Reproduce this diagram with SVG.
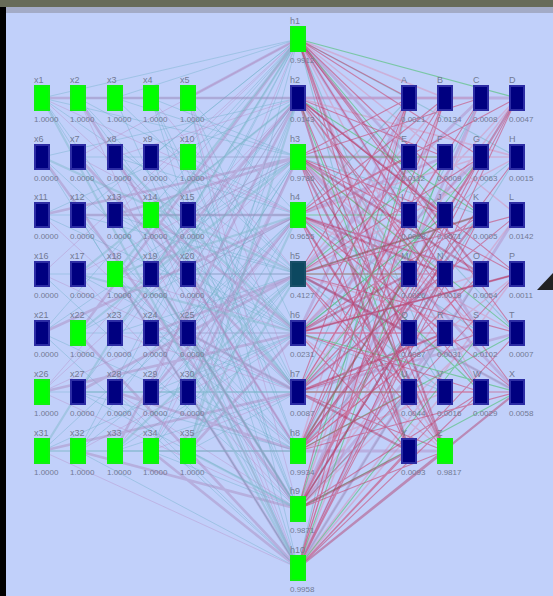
<svg xmlns="http://www.w3.org/2000/svg" xmlns:xlink="http://www.w3.org/1999/xlink" width="553" height="596" viewBox="0 0 553 596">
<style>
.ln{fill:none;stroke-linecap:butt}
.a{stroke:#70b0c8;stroke-width:1;opacity:.42}
.b{stroke:#b890c8;stroke-width:1;opacity:.42}
.c{stroke:#a880b8;stroke-width:2.6;opacity:.42}
.d{stroke:#78b4c4;stroke-width:2.2;opacity:.42}
.r{stroke:#c83c68;stroke-width:1.1;opacity:.55}
.p{stroke:#d890b8;stroke-width:1.5;opacity:.5}
.g{stroke:#40c060;stroke-width:1.1;opacity:.55}
.m{stroke:#b088c0;stroke-width:2.8;opacity:.45}
.t{stroke:#70b4c0;stroke-width:1.1;opacity:.5}
.R{stroke:#b02858;stroke-width:2.2;opacity:.42}
.on{fill:#00ff00;stroke:#10f010;stroke-width:2}
.off{fill:#000080;stroke:#2c2ca4;stroke-width:2}
.mid{fill:#0c4860;stroke:#184f68;stroke-width:2}
.lt{font-family:"Liberation Sans",Arial,sans-serif;font-size:9px;fill:#727a94}
.lb{font-family:"Liberation Sans",Arial,sans-serif;font-size:8px;fill:#727a94}
</style>
<defs>
<rect id="n" x="-7" y="-12" width="14" height="24"/>
</defs>
<rect x="0" y="0" width="553" height="596" fill="#c1d0fa"/>
<g id="connectors">
<path class="ln a" d="M298 39L42 98M298 39L115 98M298 39L188 157M298 39L78 215M298 39L151 274M298 39L42 333M298 39L115 392M298 39L188 451M298 39L78 451M298 39L151 157M298 39L188 333M298 98L78 98M298 98L151 215M298 98L42 157M298 98L115 333M298 98L188 392M298 98L78 392M298 98L151 451M298 98L42 215M298 98L188 274M298 157L42 98M298 157L151 98M298 157L78 157M298 157L188 215M298 157L115 274M298 157L42 333M298 157L151 392M298 157L78 451M298 157L188 333M298 157L115 98M298 215L78 98M298 215L188 98M298 215L115 157M298 215L42 215M298 215L151 215M298 215L78 333M298 215L188 333M298 215L115 392M298 215L42 451M298 215L151 451M298 274L42 98M298 274L115 98M298 274L188 157M298 274L78 215M298 274L151 274M298 274L42 274M298 274L115 333M298 274L188 392M298 274L78 451M298 274L151 451M298 274L115 215M298 333L78 98M298 333L151 157M298 333L42 215M298 333L115 215M298 333L188 274M298 333L78 333M298 333L151 392M298 333L42 451M298 333L115 451M298 333L188 98M298 392L42 157M298 392L115 157M298 392L188 215M298 392L78 274M298 392L151 333M298 392L42 392M298 392L115 451M298 392L188 451M298 392L78 98M298 392L151 98M298 451L42 98M298 451L151 98M298 451L78 215M298 451L188 157M298 451L115 274M298 451L42 333M298 451L151 333M298 451L78 392M298 451L188 392M298 451L115 451M298 509L78 157M298 509L151 157M298 509L42 274M298 509L115 274M298 509L188 333M298 509L78 392M298 509L151 451M298 509L42 98M298 509L115 98M298 509L188 215M298 568L42 157M298 568L115 157M298 568L188 98M298 568L78 215M298 568L151 274M298 568L42 333M298 568L115 392M298 568L188 392M298 568L78 451M298 568L151 98"/>
<path class="ln b" d="M298 39L78 157M298 39L151 392M298 39L42 274M298 39L115 215M298 98L115 157M298 98L188 215M298 98L42 392M298 98L151 333M298 157L188 157M298 157L78 274M298 157L151 451M298 157L42 392M298 215L42 98M298 215L151 157M298 215L188 274M298 215L115 451M298 274L78 157M298 274L151 98M298 274L42 392M298 274L188 274M298 333L42 98M298 333L115 274M298 333L188 333M298 333L78 451M298 392L188 98M298 392L115 333M298 392L42 274M298 392L151 451M298 451L115 157M298 451L42 215M298 451L188 274M298 451L151 451M298 509L188 98M298 509L42 392M298 509L115 392M298 509L78 274M298 568L78 98M298 568L151 215M298 568L42 451M298 568L188 274"/>
<path class="ln c" d="M298 39L188 98M298 39L78 333M298 98L42 98M298 98L115 451M298 98L151 274M298 157L115 215M298 157L188 392M298 157L42 215M298 215L78 215M298 215L42 333M298 215L151 392M298 274L151 333M298 274L78 392M298 333L151 215M298 333L42 392M298 333L188 451M298 392L78 157M298 392L188 333M298 392L42 451M298 451L78 98M298 451L151 215M298 451L115 392M298 509L151 274M298 509L78 451M298 509L42 157M298 568L115 274M298 568L151 451M298 568L78 333"/>
<path class="ln d" d="M298 39L115 274M298 39L42 451M298 98L78 274M298 98L188 451M298 157L151 274M298 157L78 333M298 215L115 274M298 215L188 451M298 274L42 157M298 274L188 451M298 274L115 451M298 333L115 157M298 333L78 274M298 392L151 215M298 392L78 392M298 451L42 451M298 509L115 215M298 509L188 451M298 568L42 98M298 568L188 333"/>
<path class="ln t" d="M298 39L517 157M298 39L445 392M298 39L409 451M298 98L481 392M298 98L517 333M298 157L481 215M298 157L445 392M298 215L409 98M298 215L481 333M298 274L445 392M298 274L517 392M298 333L517 157M298 333L445 392M298 392L409 157M298 392L481 215M298 451L481 98M298 451L409 333M298 509L517 157M298 509L409 392M298 568L409 98M298 568L481 274"/>
<path class="ln p" d="M298 39L445 98M298 39L517 215M298 39L409 333M298 39L481 392M298 98L481 98M298 98L409 274M298 98L517 157M298 98L445 333M298 157L517 157M298 157L445 274M298 157L481 333M298 215L481 157M298 215L409 274M298 215L517 333M298 215L445 451M298 274L445 98M298 274L517 157M298 274L409 215M298 274L481 333M298 333L517 98M298 333L481 274M298 333L409 333M298 333L445 451M298 392L517 98M298 392L409 215M298 392L481 392M298 392L445 333M298 451L409 98M298 451L481 157M298 451L517 274M298 451L445 392M298 509L445 98M298 509L517 215M298 509L409 274M298 509L481 333M298 568L481 98M298 568L409 215M298 568L517 274M298 568L445 392"/>
<path class="ln m" d="M298 39L409 157M298 39L481 333M298 98L517 98M298 157L409 157M298 157L517 392M298 215L481 274M298 215L445 157M298 274L517 392M298 274L481 98M298 333L409 98M298 333L481 157M298 392L445 274M298 392L517 333M298 451L445 451M298 509L481 98M298 509L445 333M298 568L517 215M298 568L409 333"/>
<path class="ln g" d="M298 39L517 98M298 39L445 215M298 98L481 215M298 98L409 392M298 157L445 157M298 157L517 333M298 215L409 215M298 215L481 392M298 274L481 215M298 274L409 274M298 274L445 157M298 333L445 215M298 333L517 392M298 392L481 157M298 392L409 392M298 451L445 215M298 451L517 333M298 509L409 157M298 509L517 392M298 568L445 157M298 568L481 333"/>
<path class="ln r" d="M298 39L409 98M298 39L481 157M298 39L445 274M298 39L517 333M298 39L409 392M298 39L481 215M298 98L445 157M298 98L517 274M298 98L409 215M298 98L481 333M298 98L445 451M298 98L517 392M298 157L409 98M298 157L481 98M298 157L445 215M298 157L517 274M298 157L409 333M298 157L481 392M298 157L409 451M298 215L445 98M298 215L517 98M298 215L409 157M298 215L481 274M298 215L445 333M298 215L517 392M298 215L409 451M298 274L409 98M298 274L481 157M298 274L517 215M298 274L445 274M298 274L409 392M298 274L445 451M298 274L517 333M298 333L445 98M298 333L409 157M298 333L481 215M298 333L517 274M298 333L445 333M298 333L409 451M298 333L481 392M298 392L409 98M298 392L481 98M298 392L445 157M298 392L517 215M298 392L409 274M298 392L481 333M298 392L445 451M298 392L517 392M298 451L445 98M298 451L517 157M298 451L409 215M298 451L481 274M298 451L445 333M298 451L517 392M298 451L409 392M298 509L409 98M298 509L481 157M298 509L445 215M298 509L517 274M298 509L409 333M298 509L481 392M298 509L445 451M298 509L517 98M298 568L445 98M298 568L517 98M298 568L409 157M298 568L481 215M298 568L445 274M298 568L517 333M298 568L409 451M298 568L481 392"/>
<path class="ln R" d="M298 39L481 274M298 39L445 451M298 98L445 215M298 98L409 451M298 157L481 274M298 157L445 451M298 215L445 274M298 215L409 392M298 274L409 333M298 274L481 215M298 333L409 274M298 333L517 274M298 392L409 451M298 392L445 333M298 451L481 215M298 451L517 98M298 509L445 274M298 509L409 451M298 568L445 451M298 568L517 392"/>
</g>
<g id="in-x1" transform="translate(42 98)"><use href="#n" class="on"/><text class="lt" x="-8" y="-15">x1</text><text class="lb" x="-8" y="24">1.0000</text></g>
<g id="in-x2" transform="translate(78 98)"><use href="#n" class="on"/><text class="lt" x="-8" y="-15">x2</text><text class="lb" x="-8" y="24">1.0000</text></g>
<g id="in-x3" transform="translate(115 98)"><use href="#n" class="on"/><text class="lt" x="-8" y="-15">x3</text><text class="lb" x="-8" y="24">1.0000</text></g>
<g id="in-x4" transform="translate(151 98)"><use href="#n" class="on"/><text class="lt" x="-8" y="-15">x4</text><text class="lb" x="-8" y="24">1.0000</text></g>
<g id="in-x5" transform="translate(188 98)"><use href="#n" class="on"/><text class="lt" x="-8" y="-15">x5</text><text class="lb" x="-8" y="24">1.0000</text></g>
<g id="in-x6" transform="translate(42 157)"><use href="#n" class="off"/><text class="lt" x="-8" y="-15">x6</text><text class="lb" x="-8" y="24">0.0000</text></g>
<g id="in-x7" transform="translate(78 157)"><use href="#n" class="off"/><text class="lt" x="-8" y="-15">x7</text><text class="lb" x="-8" y="24">0.0000</text></g>
<g id="in-x8" transform="translate(115 157)"><use href="#n" class="off"/><text class="lt" x="-8" y="-15">x8</text><text class="lb" x="-8" y="24">0.0000</text></g>
<g id="in-x9" transform="translate(151 157)"><use href="#n" class="off"/><text class="lt" x="-8" y="-15">x9</text><text class="lb" x="-8" y="24">0.0000</text></g>
<g id="in-x10" transform="translate(188 157)"><use href="#n" class="on"/><text class="lt" x="-8" y="-15">x10</text><text class="lb" x="-8" y="24">1.0000</text></g>
<g id="in-x11" transform="translate(42 215)"><use href="#n" class="off"/><text class="lt" x="-8" y="-15">x11</text><text class="lb" x="-8" y="24">0.0000</text></g>
<g id="in-x12" transform="translate(78 215)"><use href="#n" class="off"/><text class="lt" x="-8" y="-15">x12</text><text class="lb" x="-8" y="24">0.0000</text></g>
<g id="in-x13" transform="translate(115 215)"><use href="#n" class="off"/><text class="lt" x="-8" y="-15">x13</text><text class="lb" x="-8" y="24">0.0000</text></g>
<g id="in-x14" transform="translate(151 215)"><use href="#n" class="on"/><text class="lt" x="-8" y="-15">x14</text><text class="lb" x="-8" y="24">1.0000</text></g>
<g id="in-x15" transform="translate(188 215)"><use href="#n" class="off"/><text class="lt" x="-8" y="-15">x15</text><text class="lb" x="-8" y="24">0.0000</text></g>
<g id="in-x16" transform="translate(42 274)"><use href="#n" class="off"/><text class="lt" x="-8" y="-15">x16</text><text class="lb" x="-8" y="24">0.0000</text></g>
<g id="in-x17" transform="translate(78 274)"><use href="#n" class="off"/><text class="lt" x="-8" y="-15">x17</text><text class="lb" x="-8" y="24">0.0000</text></g>
<g id="in-x18" transform="translate(115 274)"><use href="#n" class="on"/><text class="lt" x="-8" y="-15">x18</text><text class="lb" x="-8" y="24">1.0000</text></g>
<g id="in-x19" transform="translate(151 274)"><use href="#n" class="off"/><text class="lt" x="-8" y="-15">x19</text><text class="lb" x="-8" y="24">0.0000</text></g>
<g id="in-x20" transform="translate(188 274)"><use href="#n" class="off"/><text class="lt" x="-8" y="-15">x20</text><text class="lb" x="-8" y="24">0.0000</text></g>
<g id="in-x21" transform="translate(42 333)"><use href="#n" class="off"/><text class="lt" x="-8" y="-15">x21</text><text class="lb" x="-8" y="24">0.0000</text></g>
<g id="in-x22" transform="translate(78 333)"><use href="#n" class="on"/><text class="lt" x="-8" y="-15">x22</text><text class="lb" x="-8" y="24">1.0000</text></g>
<g id="in-x23" transform="translate(115 333)"><use href="#n" class="off"/><text class="lt" x="-8" y="-15">x23</text><text class="lb" x="-8" y="24">0.0000</text></g>
<g id="in-x24" transform="translate(151 333)"><use href="#n" class="off"/><text class="lt" x="-8" y="-15">x24</text><text class="lb" x="-8" y="24">0.0000</text></g>
<g id="in-x25" transform="translate(188 333)"><use href="#n" class="off"/><text class="lt" x="-8" y="-15">x25</text><text class="lb" x="-8" y="24">0.0000</text></g>
<g id="in-x26" transform="translate(42 392)"><use href="#n" class="on"/><text class="lt" x="-8" y="-15">x26</text><text class="lb" x="-8" y="24">1.0000</text></g>
<g id="in-x27" transform="translate(78 392)"><use href="#n" class="off"/><text class="lt" x="-8" y="-15">x27</text><text class="lb" x="-8" y="24">0.0000</text></g>
<g id="in-x28" transform="translate(115 392)"><use href="#n" class="off"/><text class="lt" x="-8" y="-15">x28</text><text class="lb" x="-8" y="24">0.0000</text></g>
<g id="in-x29" transform="translate(151 392)"><use href="#n" class="off"/><text class="lt" x="-8" y="-15">x29</text><text class="lb" x="-8" y="24">0.0000</text></g>
<g id="in-x30" transform="translate(188 392)"><use href="#n" class="off"/><text class="lt" x="-8" y="-15">x30</text><text class="lb" x="-8" y="24">0.0000</text></g>
<g id="in-x31" transform="translate(42 451)"><use href="#n" class="on"/><text class="lt" x="-8" y="-15">x31</text><text class="lb" x="-8" y="24">1.0000</text></g>
<g id="in-x32" transform="translate(78 451)"><use href="#n" class="on"/><text class="lt" x="-8" y="-15">x32</text><text class="lb" x="-8" y="24">1.0000</text></g>
<g id="in-x33" transform="translate(115 451)"><use href="#n" class="on"/><text class="lt" x="-8" y="-15">x33</text><text class="lb" x="-8" y="24">1.0000</text></g>
<g id="in-x34" transform="translate(151 451)"><use href="#n" class="on"/><text class="lt" x="-8" y="-15">x34</text><text class="lb" x="-8" y="24">1.0000</text></g>
<g id="in-x35" transform="translate(188 451)"><use href="#n" class="on"/><text class="lt" x="-8" y="-15">x35</text><text class="lb" x="-8" y="24">1.0000</text></g>
<g id="hid-h1" transform="translate(298 39)"><use href="#n" class="on"/><text class="lt" x="-8" y="-15">h1</text><text class="lb" x="-8" y="24">0.9912</text></g>
<g id="hid-h2" transform="translate(298 98)"><use href="#n" class="off"/><text class="lt" x="-8" y="-15">h2</text><text class="lb" x="-8" y="24">0.0143</text></g>
<g id="hid-h3" transform="translate(298 157)"><use href="#n" class="on"/><text class="lt" x="-8" y="-15">h3</text><text class="lb" x="-8" y="24">0.9786</text></g>
<g id="hid-h4" transform="translate(298 215)"><use href="#n" class="on"/><text class="lt" x="-8" y="-15">h4</text><text class="lb" x="-8" y="24">0.9655</text></g>
<g id="hid-h5" transform="translate(298 274)"><use href="#n" class="mid"/><text class="lt" x="-8" y="-15">h5</text><text class="lb" x="-8" y="24">0.4127</text></g>
<g id="hid-h6" transform="translate(298 333)"><use href="#n" class="off"/><text class="lt" x="-8" y="-15">h6</text><text class="lb" x="-8" y="24">0.0231</text></g>
<g id="hid-h7" transform="translate(298 392)"><use href="#n" class="off"/><text class="lt" x="-8" y="-15">h7</text><text class="lb" x="-8" y="24">0.0087</text></g>
<g id="hid-h8" transform="translate(298 451)"><use href="#n" class="on"/><text class="lt" x="-8" y="-15">h8</text><text class="lb" x="-8" y="24">0.9934</text></g>
<g id="hid-h9" transform="translate(298 509)"><use href="#n" class="on"/><text class="lt" x="-8" y="-15">h9</text><text class="lb" x="-8" y="24">0.9871</text></g>
<g id="hid-h10" transform="translate(298 568)"><use href="#n" class="on"/><text class="lt" x="-8" y="-15">h10</text><text class="lb" x="-8" y="24">0.9958</text></g>
<g id="out-A" transform="translate(409 98)"><use href="#n" class="off"/><text class="lt" x="-8" y="-15">A</text><text class="lb" x="-8" y="24">0.0021</text></g>
<g id="out-B" transform="translate(445 98)"><use href="#n" class="off"/><text class="lt" x="-8" y="-15">B</text><text class="lb" x="-8" y="24">0.0134</text></g>
<g id="out-C" transform="translate(481 98)"><use href="#n" class="off"/><text class="lt" x="-8" y="-15">C</text><text class="lb" x="-8" y="24">0.0008</text></g>
<g id="out-D" transform="translate(517 98)"><use href="#n" class="off"/><text class="lt" x="-8" y="-15">D</text><text class="lb" x="-8" y="24">0.0047</text></g>
<g id="out-E" transform="translate(409 157)"><use href="#n" class="off"/><text class="lt" x="-8" y="-15">E</text><text class="lb" x="-8" y="24">0.0112</text></g>
<g id="out-F" transform="translate(445 157)"><use href="#n" class="off"/><text class="lt" x="-8" y="-15">F</text><text class="lb" x="-8" y="24">0.0009</text></g>
<g id="out-G" transform="translate(481 157)"><use href="#n" class="off"/><text class="lt" x="-8" y="-15">G</text><text class="lb" x="-8" y="24">0.0063</text></g>
<g id="out-H" transform="translate(517 157)"><use href="#n" class="off"/><text class="lt" x="-8" y="-15">H</text><text class="lb" x="-8" y="24">0.0015</text></g>
<g id="out-I" transform="translate(409 215)"><use href="#n" class="off"/><text class="lt" x="-8" y="-15">I</text><text class="lb" x="-8" y="24">0.0038</text></g>
<g id="out-J" transform="translate(445 215)"><use href="#n" class="off"/><text class="lt" x="-8" y="-15">J</text><text class="lb" x="-8" y="24">0.0071</text></g>
<g id="out-K" transform="translate(481 215)"><use href="#n" class="off"/><text class="lt" x="-8" y="-15">K</text><text class="lb" x="-8" y="24">0.0005</text></g>
<g id="out-L" transform="translate(517 215)"><use href="#n" class="off"/><text class="lt" x="-8" y="-15">L</text><text class="lb" x="-8" y="24">0.0142</text></g>
<g id="out-M" transform="translate(409 274)"><use href="#n" class="off"/><text class="lt" x="-8" y="-15">M</text><text class="lb" x="-8" y="24">0.0026</text></g>
<g id="out-N" transform="translate(445 274)"><use href="#n" class="off"/><text class="lt" x="-8" y="-15">N</text><text class="lb" x="-8" y="24">0.0019</text></g>
<g id="out-O" transform="translate(481 274)"><use href="#n" class="off"/><text class="lt" x="-8" y="-15">O</text><text class="lb" x="-8" y="24">0.0054</text></g>
<g id="out-P" transform="translate(517 274)"><use href="#n" class="off"/><text class="lt" x="-8" y="-15">P</text><text class="lb" x="-8" y="24">0.0011</text></g>
<g id="out-Q" transform="translate(409 333)"><use href="#n" class="off"/><text class="lt" x="-8" y="-15">Q</text><text class="lb" x="-8" y="24">0.0087</text></g>
<g id="out-R" transform="translate(445 333)"><use href="#n" class="off"/><text class="lt" x="-8" y="-15">R</text><text class="lb" x="-8" y="24">0.0031</text></g>
<g id="out-S" transform="translate(481 333)"><use href="#n" class="off"/><text class="lt" x="-8" y="-15">S</text><text class="lb" x="-8" y="24">0.0102</text></g>
<g id="out-T" transform="translate(517 333)"><use href="#n" class="off"/><text class="lt" x="-8" y="-15">T</text><text class="lb" x="-8" y="24">0.0007</text></g>
<g id="out-U" transform="translate(409 392)"><use href="#n" class="off"/><text class="lt" x="-8" y="-15">U</text><text class="lb" x="-8" y="24">0.0044</text></g>
<g id="out-V" transform="translate(445 392)"><use href="#n" class="off"/><text class="lt" x="-8" y="-15">V</text><text class="lb" x="-8" y="24">0.0016</text></g>
<g id="out-W" transform="translate(481 392)"><use href="#n" class="off"/><text class="lt" x="-8" y="-15">W</text><text class="lb" x="-8" y="24">0.0029</text></g>
<g id="out-X" transform="translate(517 392)"><use href="#n" class="off"/><text class="lt" x="-8" y="-15">X</text><text class="lb" x="-8" y="24">0.0058</text></g>
<g id="out-Y" transform="translate(409 451)"><use href="#n" class="off"/><text class="lt" x="-8" y="-15">Y</text><text class="lb" x="-8" y="24">0.0093</text></g>
<g id="out-Z" transform="translate(445 451)"><use href="#n" class="on"/><text class="lt" x="-8" y="-15">Z</text><text class="lb" x="-8" y="24">0.9817</text></g>
<rect x="0" y="7" width="6" height="589" fill="#000000"/>
<rect x="0" y="0" width="553" height="7" fill="#676b58"/>
<rect x="6" y="7" width="547" height="6" fill="#a3abc6"/>
<polygon points="537,290 553,273 553,290" fill="#222222"/>
</svg>
